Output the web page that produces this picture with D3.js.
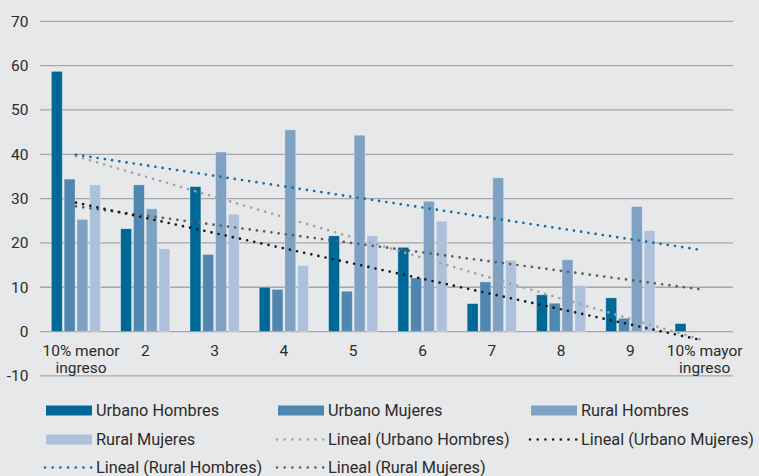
<!DOCTYPE html>
<html>
<head>
<meta charset="utf-8">
<script src="https://cdn.jsdelivr.net/npm/d3@7"></script>
<style>
  html, body { margin: 0; padding: 0; background: #e7e8ea; }
  svg { display: block; font-family: Roboto, "Noto Sans", sans-serif; }
</style>
</head>
<body>
<svg id="chart" width="759" height="476"></svg>
<script>
// Income deciles (x categories)
const categories = ["10% menor ingreso", "2", "3", "4", "5", "6", "7", "8", "9", "10% mayor ingreso"];

// Series values per decile
const urbanoHombres = [58.7, 23.2, 32.7, 10.0, 21.6, 19.0, 6.3, 8.3, 7.6, 1.8];
const urbanoMujeres = [34.4, 33.1, 17.4, 9.5, 9.1, 12.1, 11.2, 6.4, 3.0, 0];
const ruralHombres  = [25.3, 27.7, 40.5, 45.5, 44.3, 29.4, 34.7, 16.2, 28.2, 0];
const ruralMujeres  = [33.1, 18.7, 26.5, 14.9, 21.6, 24.9, 16.1, 10.4, 22.8, 0];

const seriesNames = ["Urbano Hombres", "Urbano Mujeres", "Rural Hombres", "Rural Mujeres"];
const yTickValues = [-10, 0, 10, 20, 30, 40, 50, 60, 70];

const barColors = {
  "Urbano Hombres": "#006896",
  "Urbano Mujeres": "#4f87b0",
  "Rural Hombres": "#7ea1c4",
  "Rural Mujeres": "#adc1db"
};
const trendColors = {
  "Urbano Hombres": "#a3a3a3",
  "Urbano Mujeres": "#1a1a1a",
  "Rural Hombres": "#0f6f9e",
  "Rural Mujeres": "#5c5c5c"
};

const seriesData = {
  "Urbano Hombres": urbanoHombres,
  "Urbano Mujeres": urbanoMujeres,
  "Rural Hombres": ruralHombres,
  "Rural Mujeres": ruralMujeres
};

const textColor = "#2b2b2b";
const svg = d3.select("#chart");
const plot = { left: 41.35, right: 734.35, top: 21.3, bottom: 375.9 };

const x0 = d3.scaleBand()
  .domain(categories)
  .range([plot.left, plot.right])
  .paddingInner(0.29)
  .paddingOuter(0.145);

const x1 = d3.scaleBand()
  .domain(seriesNames)
  .range([0, x0.bandwidth()])
  .paddingInner(0.15);

const y = d3.scaleLinear()
  .domain([-10, 70])
  .range([plot.bottom, plot.top]);

// Horizontal gridlines
svg.append("g")
  .selectAll("line")
  .data(yTickValues)
  .join("line")
  .attr("x1", 40)
  .attr("x2", 733)
  .attr("y1", d => y(d))
  .attr("y2", d => y(d))
  .attr("stroke", "#a6a6a6")
  .attr("stroke-width", 1.3);

// Y axis labels
svg.append("g")
  .selectAll("text")
  .data(yTickValues)
  .join("text")
  .attr("x", 28.5)
  .attr("y", d => y(d) + 5.5)
  .attr("text-anchor", "end")
  .attr("font-size", 15.5)
  .attr("fill", textColor)
  .text(d => d);

// Grouped bars
const groups = svg.append("g")
  .selectAll("g")
  .data(categories)
  .join("g")
  .attr("transform", d => `translate(${x0(d)},0)`);

groups.selectAll("rect")
  .data((c, i) => seriesNames.map(s => ({ s, v: seriesData[s][i] })))
  .join("rect")
  .filter(d => d.v > 0)
  .attr("x", d => x1(d.s))
  .attr("width", x1.bandwidth())
  .attr("y", d => y(d.v))
  .attr("height", d => y(0) - y(d.v))
  .attr("fill", d => barColors[d.s])
  .attr("stroke", "rgba(255,255,255,0.35)")
  .attr("stroke-width", 0.8);

// Category labels (wrapped onto two lines where needed)
const catLabels = svg.append("g")
  .selectAll("text")
  .data(categories)
  .join("text")
  .attr("text-anchor", "middle")
  .attr("font-size", 15.5)
  .attr("fill", textColor);

catLabels.each(function (d) {
  const cx = x0(d) + x0.bandwidth() / 2;
  const words = d.split(" ");
  const t = d3.select(this);
  if (words.length > 2) {
    t.append("tspan").attr("x", cx + 5).attr("y", 356).text(words.slice(0, 2).join(" "));
    t.append("tspan").attr("x", cx + 5).attr("y", 373).text(words.slice(2).join(" "));
  } else {
    t.append("tspan").attr("x", cx).attr("y", 356).text(d);
  }
});

// Linear trendlines (least squares over decile index 1..10)
function linearFit(values) {
  const xs = values.map((_, i) => i + 1);
  const mx = d3.mean(xs), my = d3.mean(values);
  const sxy = d3.sum(xs, (xv, i) => (xv - mx) * (values[i] - my));
  const sxx = d3.sum(xs, xv => (xv - mx) * (xv - mx));
  const slope = sxy / sxx;
  return xv => my + slope * (xv - mx);
}

const trendOrder = ["Rural Mujeres", "Urbano Hombres", "Rural Hombres", "Urbano Mujeres"];
const trendG = svg.append("g");
trendOrder.forEach(s => {
  const f = linearFit(seriesData[s]);
  const first = categories[0], last = categories[categories.length - 1];
  const pts = [
    [x0(first) + x0.bandwidth() / 2, y(f(1))],
    [x0(last) + x0.bandwidth() / 2, y(f(categories.length))]
  ];
  trendG.append("path")
    .attr("d", d3.line()(pts))
    .attr("fill", "none")
    .attr("stroke", trendColors[s])
    .attr("stroke-width", 2.7)
    .attr("stroke-linecap", "round")
    .attr("stroke-dasharray", "0 7.3");
});

// Legend
const legendItems = [
  { label: "Urbano Hombres", type: "bar", series: "Urbano Hombres", col: 0, row: 0 },
  { label: "Urbano Mujeres", type: "bar", series: "Urbano Mujeres", col: 1, row: 0 },
  { label: "Rural Hombres", type: "bar", series: "Rural Hombres", col: 2, row: 0 },
  { label: "Rural Mujeres", type: "bar", series: "Rural Mujeres", col: 0, row: 1 },
  { label: "Lineal (Urbano Hombres)", type: "trend", series: "Urbano Hombres", col: 1, row: 1 },
  { label: "Lineal (Urbano Mujeres)", type: "trend", series: "Urbano Mujeres", col: 2, row: 1 },
  { label: "Lineal (Rural Hombres)", type: "trend", series: "Rural Hombres", col: 0, row: 2 },
  { label: "Lineal (Rural Mujeres)", type: "trend", series: "Rural Mujeres", col: 1, row: 2 }
];
const colX = [45, 277, 530];
const rowY = [410.5, 439.5, 467.5];

const legend = svg.append("g");
legendItems.forEach(it => {
  const gx = colX[it.col], gy = rowY[it.row];
  if (it.type === "bar") {
    legend.append("rect")
      .attr("x", gx + 1).attr("y", gy - 5)
      .attr("width", 46).attr("height", 10)
      .attr("fill", barColors[it.series]);
  } else {
    legend.append("line")
      .attr("x1", gx).attr("x2", gx + 47)
      .attr("y1", gy).attr("y2", gy)
      .attr("stroke", trendColors[it.series])
      .attr("stroke-width", 2.6)
      .attr("stroke-linecap", "round")
      .attr("stroke-dasharray", "0 7.7");
  }
  legend.append("text")
    .attr("x", gx + 51)
    .attr("y", gy + 5.8)
    .attr("font-size", 16.3)
    .attr("fill", textColor)
    .text(it.label);
});
</script>
</body>
</html>
